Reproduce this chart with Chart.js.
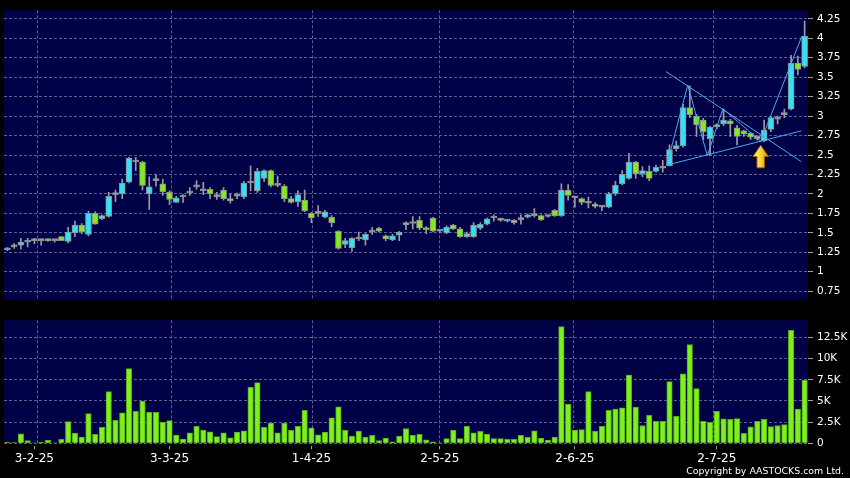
<!DOCTYPE html>
<html><head><meta charset="utf-8">
<script src="https://cdn.jsdelivr.net/npm/chart.js@4.4.1/dist/chart.umd.min.js"></script>
<style>
html,body{margin:0;padding:0;background:#000;width:850px;height:478px;overflow:hidden}
#pc{position:absolute;left:0;top:0}
#vc{position:absolute;left:0;top:310px}
</style></head><body>
<canvas id="pc" width="850" height="310"></canvas>
<canvas id="vc" width="850" height="168"></canvas>
<script>
const dates = ['23-1-25','24-1-25','27-1-25','28-1-25',
'3-2-25','4-2-25','5-2-25','6-2-25','7-2-25','10-2-25','11-2-25','12-2-25','13-2-25','14-2-25','17-2-25','18-2-25','19-2-25','20-2-25','21-2-25','24-2-25','25-2-25','26-2-25','27-2-25','28-2-25',
'3-3-25','4-3-25','5-3-25','6-3-25','7-3-25','10-3-25','11-3-25','12-3-25','13-3-25','14-3-25','17-3-25','18-3-25','19-3-25','20-3-25','21-3-25','24-3-25','25-3-25','26-3-25','27-3-25','28-3-25','31-3-25',
'1-4-25','2-4-25','3-4-25','7-4-25','8-4-25','9-4-25','10-4-25','11-4-25','14-4-25','15-4-25','16-4-25','17-4-25','22-4-25','23-4-25','24-4-25','25-4-25','28-4-25','29-4-25','30-4-25',
'2-5-25','6-5-25','7-5-25','8-5-25','9-5-25','12-5-25','13-5-25','14-5-25','15-5-25','16-5-25','19-5-25','20-5-25','21-5-25','22-5-25','23-5-25','26-5-25','27-5-25','28-5-25','29-5-25','30-5-25',
'2-6-25','3-6-25','4-6-25','5-6-25','6-6-25','9-6-25','10-6-25','11-6-25','12-6-25','13-6-25','16-6-25','17-6-25','18-6-25','19-6-25','20-6-25','23-6-25','24-6-25','25-6-25','26-6-25','27-6-25','30-6-25',
'2-7-25','3-7-25','4-7-25','7-7-25','8-7-25','9-7-25','10-7-25','11-7-25','14-7-25','15-7-25','16-7-25','17-7-25','18-7-25','21-7-25'];

const open = [1.28,1.34,1.34,1.38,1.40,1.40,1.40,1.40,1.45,1.39,
1.50,1.60,1.48,1.75,1.68,1.71,1.99,2.00,2.15,2.41,
2.41,2.00,2.17,2.13,2.02,1.89,1.96,2.01,2.09,2.04,
2.06,1.96,2.05,1.94,1.99,1.96,2.14,2.04,2.20,2.30,
2.11,2.10,1.94,1.90,1.92,1.75,1.75,1.70,1.70,1.52,
1.35,1.31,1.42,1.41,1.51,1.56,1.46,1.41,1.47,1.60,
1.62,1.66,1.56,1.69,1.52,1.50,1.60,1.55,1.45,1.45,
1.56,1.61,1.69,1.68,1.65,1.66,1.67,1.70,1.72,1.72,
1.71,1.79,1.72,2.05,1.95,1.94,1.88,1.87,1.83,1.83,
2.00,2.13,2.20,2.41,2.26,2.29,2.29,2.33,2.36,2.58,
2.62,3.11,3.00,2.95,2.71,2.86,2.90,2.94,2.85,2.81,
2.78,2.71,2.68,2.83,2.96,3.02,3.09,3.68,3.64];

const high = [1.31,1.36,1.43,1.43,1.43,1.42,1.42,1.41,1.45,1.57,
1.65,1.62,1.78,1.77,1.73,2.02,2.05,2.19,2.47,2.47,
2.42,2.22,2.25,2.19,2.04,1.97,1.99,2.08,2.17,2.15,
2.08,2.02,2.08,2.00,2.01,2.16,2.36,2.33,2.31,2.31,
2.23,2.12,1.97,2.04,2.05,1.76,1.85,1.79,1.72,1.53,
1.43,1.44,1.51,1.49,1.57,1.57,1.47,1.48,1.52,1.64,
1.71,1.71,1.58,1.70,1.53,1.59,1.61,1.57,1.51,1.63,
1.63,1.69,1.73,1.69,1.67,1.67,1.73,1.74,1.81,1.73,
1.73,1.80,2.13,2.12,1.97,1.95,1.96,1.89,1.85,2.02,
2.16,2.30,2.52,2.42,2.35,2.36,2.37,2.43,2.63,2.68,
3.15,3.39,3.02,2.97,2.87,2.90,3.09,2.96,2.88,2.82,
2.79,2.75,2.95,2.99,3.00,3.09,3.78,3.77,4.22];

const low = [1.27,1.30,1.29,1.32,1.36,1.34,1.39,1.38,1.40,1.37,
1.45,1.49,1.46,1.61,1.67,1.70,1.90,1.94,2.14,2.30,
2.05,1.80,2.10,1.98,1.86,1.89,1.89,1.98,2.06,1.99,
1.94,1.93,1.92,1.88,1.94,1.94,2.04,2.02,2.16,2.09,
2.09,1.90,1.88,1.84,1.77,1.63,1.71,1.69,1.58,1.29,
1.31,1.26,1.40,1.34,1.48,1.51,1.40,1.40,1.40,1.54,
1.55,1.54,1.49,1.51,1.50,1.49,1.54,1.44,1.44,1.44,
1.54,1.60,1.65,1.65,1.64,1.61,1.61,1.69,1.70,1.66,
1.70,1.71,1.71,1.92,1.83,1.86,1.82,1.82,1.78,1.82,
1.98,2.12,2.19,2.20,2.22,2.17,2.28,2.28,2.36,2.55,
2.60,2.98,2.74,2.70,2.49,2.84,2.88,2.74,2.63,2.74,
2.70,2.69,2.67,2.80,2.90,2.98,3.08,3.53,3.62];

const close = [1.30,1.32,1.38,1.40,1.40,1.40,1.41,1.40,1.40,1.51,
1.60,1.51,1.75,1.61,1.72,1.97,1.99,2.14,2.46,2.41,
2.11,2.09,2.17,2.03,1.93,1.95,1.96,2.01,2.09,2.06,
2.00,1.99,1.94,1.91,1.97,2.14,2.14,2.29,2.30,2.11,
2.11,1.94,1.89,1.99,1.78,1.69,1.75,1.77,1.63,1.30,
1.40,1.43,1.44,1.48,1.51,1.52,1.42,1.46,1.51,1.63,
1.62,1.56,1.54,1.52,1.52,1.57,1.55,1.45,1.49,1.60,
1.61,1.68,1.69,1.66,1.66,1.63,1.67,1.73,1.72,1.67,
1.72,1.72,2.05,1.98,1.95,1.89,1.88,1.84,1.83,2.00,
2.11,2.25,2.41,2.26,2.30,2.20,2.34,2.35,2.57,2.62,
3.11,3.02,2.89,2.80,2.86,2.89,2.95,2.90,2.74,2.77,
2.73,2.74,2.82,2.98,2.96,3.04,3.68,3.60,4.03];

const volume = [120,80,1130,310,30,120,350,40,470,2570,
1200,740,3500,1050,1900,6100,2700,3600,8830,3770,
5000,3660,3660,2490,2680,970,500,1250,2000,1560,
1360,780,1250,660,1320,1480,6600,7160,1900,2400,
1250,2400,1520,2000,3900,1830,1000,1320,3000,4300,
1520,860,1440,740,930,310,620,160,860,1750,
930,1050,400,160,40,550,1560,550,2000,1250,
1400,1090,550,550,470,470,930,700,1480,620,
390,740,13800,4630,1560,1630,6100,1400,2000,3900,
4050,4200,8050,4280,2100,3300,2600,2600,7280,3190,
8200,11670,6460,2600,2490,3770,2880,2840,2920,1170,
1950,2600,2840,1980,2100,2200,13350,4050,7430];

const monthTicks = ['3-2-25','3-3-25','1-4-25','2-5-25','2-6-25','2-7-25'];
const priceTicks = [0.75,1,1.25,1.5,1.75,2,2.25,2.5,2.75,3,3.25,3.5,3.75,4,4.25];
const volumeTicks = [0,2500,5000,7500,10000,12500];

// hand-drawn trend lines (bar index, price)
const upperLine = [{x:97.5,y:3.572},{x:117.5,y:2.415}];
const lowerLine = [{x:97.6,y:2.37},{x:117.5,y:2.81}];
const zigzag = [{x:97.6,y:2.37},{x:100.7,y:3.40},{x:103.6,y:2.49},{x:105.9,y:3.095},{x:111.5,y:2.675},{x:117.6,y:4.03}];
const arrowMark = {x:111.5, top:2.625, bottom:2.336};

const priceMin = 0.64, priceMax = 4.36, volMax = 14530;
const gridMin = -1.03, gridMax = 119.06;

const NAVY = '#000046', GRID = '#5e5e90', DASH = [3,2];
const UP = '#33e0f5', DOWN = '#84ea1e', DOJI = '#a8a8a8';
const n = dates.length;
const monthIdx = monthTicks.map(d => dates.indexOf(d));

Chart.defaults.font.family = 'DejaVu Sans';

const bgPlugin = {id:'bg', beforeDraw(chart){
  const {ctx, chartArea:a} = chart;
  ctx.save();
  ctx.fillStyle = '#000'; ctx.fillRect(0,0,chart.width,chart.height);
  ctx.fillStyle = NAVY; ctx.fillRect(a.left,a.top,a.right-a.left,a.bottom-a.top);
  ctx.restore();
}};

const arrowPlugin = {id:'arrow', afterDatasetsDraw(chart){
  const {ctx} = chart; const xs = chart.scales.xl, ys = chart.scales.y;
  const cx = xs.getPixelForValue(arrowMark.x);
  const yt = ys.getPixelForValue(arrowMark.top), yb = ys.getPixelForValue(arrowMark.bottom);
  const hh = (yb-yt)*0.5, hw = 7.7, sw = 3.7;
  ctx.save();
  const g = ctx.createLinearGradient(cx-hw,0,cx+hw,0);
  g.addColorStop(0,'#fff39a'); g.addColorStop(0.5,'#ffd23a'); g.addColorStop(1,'#e08c00');
  ctx.beginPath();
  ctx.moveTo(cx,yt); ctx.lineTo(cx+hw,yt+hh); ctx.lineTo(cx+sw,yt+hh); ctx.lineTo(cx+sw,yb);
  ctx.lineTo(cx-sw,yb); ctx.lineTo(cx-sw,yt+hh); ctx.lineTo(cx-hw,yt+hh); ctx.closePath();
  ctx.fillStyle = g; ctx.fill();
  ctx.strokeStyle = '#a86800'; ctx.lineWidth = 1; ctx.stroke();
  ctx.restore();
}};

const copyPlugin = {id:'copy', afterDraw(chart){
  const {ctx} = chart; ctx.save();
  ctx.font = '9.4px "DejaVu Sans"'; ctx.fillStyle = '#ffffff';
  ctx.textAlign = 'right'; ctx.textBaseline = 'alphabetic';
  ctx.fillText('Copyright by AASTOCKS.com Ltd.', 844, 163.5);
  ctx.restore();
}};

const fmtPrice = v => String(Number(v.toFixed(2)));
const fmtVol = v => v === 0 ? '0' : (v/1000) + 'K';

function gridAxis(){
  return {type:'linear', position:'bottom', min:gridMin, max:gridMax, bounds:'data', offset:false,
    afterBuildTicks: s => { s.ticks = monthIdx.map(v => ({value:v})); },
    afterFit: s => { s.height = 0; },
    ticks:{display:false},
    grid:{offset:false, color:GRID, lineWidth:1, drawTicks:false, borderDash:DASH},
    border:{display:false, dash:DASH}};
}
function rightAxis(min, max, tickVals, fmt){
  return {position:'right', min, max, bounds:'data', beginAtZero:false,
    afterBuildTicks: s => { s.ticks = tickVals.map(v => ({value:v})); },
    afterFit: s => { s.width = 42; },
    ticks:{color:'#ffffff', font:{size:10.5}, padding:4, callback: fmt},
    grid:{color:GRID, lineWidth:1, tickLength:5, tickColor:'#a0a0a0', tickWidth:1, tickBorderDash:[], borderDash:DASH},
    border:{display:false, dash:DASH}};
}

const bodyColors = dates.map((d,i) => close[i] > open[i] ? UP : (close[i] < open[i] ? DOWN : DOJI));

new Chart(document.getElementById('pc'), {
  type:'bar',
  data:{labels:dates, datasets:[
    {type:'line', data:upperLine, xAxisID:'xl', yAxisID:'y', borderColor:'#4aaaf0', borderWidth:1, pointRadius:0, fill:false, order:0},
    {type:'line', data:lowerLine, xAxisID:'xl', yAxisID:'y', borderColor:'#4aaaf0', borderWidth:1, pointRadius:0, fill:false, order:0},
    {type:'line', data:zigzag, xAxisID:'xl', yAxisID:'y', borderColor:'#4aaaf0', borderWidth:1, pointRadius:0, fill:false, tension:0, order:0},
    {type:'bar', data:dates.map((d,i)=>[open[i],close[i]]), xAxisID:'x', yAxisID:'y', backgroundColor:bodyColors,
      borderColor:'#8e8e8e', borderWidth:1, borderSkipped:false, barThickness:6, minBarLength:2, grouped:false, order:1},
    {type:'bar', data:dates.map((d,i)=>[low[i],high[i]]), xAxisID:'x', yAxisID:'y', backgroundColor:'#9c9c9c',
      borderWidth:0, barThickness:1, grouped:false, order:2}
  ]},
  options:{responsive:false, animation:false, events:[],
    layout:{padding:{left:4, top:7, right:0, bottom:2}},
    plugins:{legend:{display:false}, tooltip:{enabled:false}},
    scales:{
      x:{type:'category', display:false, offset:true},
      xl:{type:'linear', display:false, min:-0.5, max:n-0.5, bounds:'data', offset:false, grid:{offset:false}},
      xg:gridAxis(),
      y:rightAxis(priceMin, priceMax, priceTicks, fmtPrice)
    }},
  plugins:[bgPlugin, arrowPlugin]
});

new Chart(document.getElementById('vc'), {
  type:'bar',
  data:{labels:dates, datasets:[
    {data:volume, xAxisID:'x', yAxisID:'y', backgroundColor:'#7ef01e', borderColor:'#56ac16', borderWidth:1, barThickness:5.5}
  ]},
  options:{responsive:false, animation:false, events:[],
    layout:{padding:{left:4, top:9, right:0, bottom:0}},
    plugins:{legend:{display:false}, tooltip:{enabled:false}},
    scales:{
      x:{type:'category', position:'bottom', offset:true,
        afterBuildTicks: s => { s.ticks = monthIdx.map(v => ({value:v})); },
        afterFit: s => { s.height = 34.7; },
        ticks:{color:'#ffffff', font:{size:12}, padding:2, autoSkip:false, maxRotation:0, minRotation:0},
        grid:{offset:false, drawOnChartArea:false, drawTicks:true, tickLength:6, tickColor:'#a0a0a0', tickBorderDash:[0,3,3]},
        border:{display:false}},
      xg:gridAxis(),
      y:rightAxis(0, volMax, volumeTicks, fmtVol)
    }},
  plugins:[bgPlugin, copyPlugin]
});
</script>
</body></html>
